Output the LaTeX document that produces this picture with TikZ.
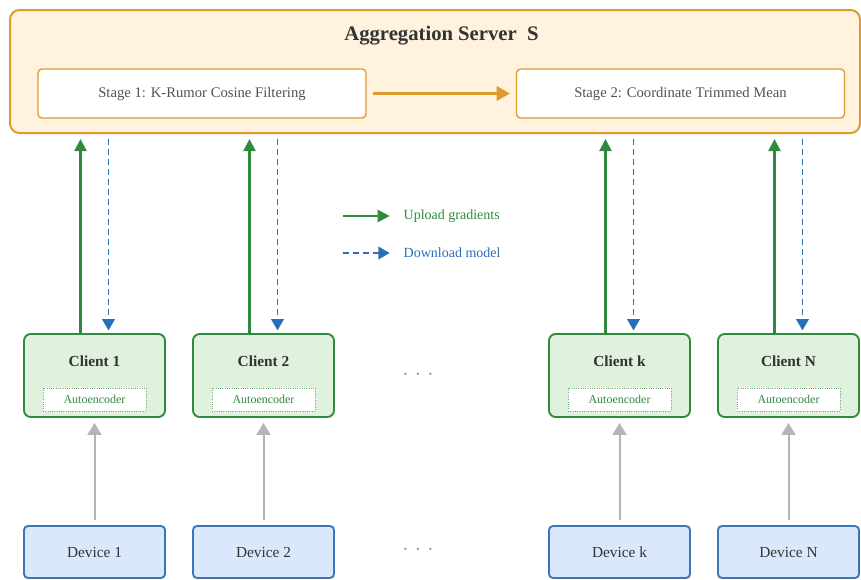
\documentclass[tikz,border=0pt]{standalone}
\usepackage{fontspec}
\setmainfont{Liberation Serif}
\usetikzlibrary{arrows.meta}
\definecolor{srvorange}{HTML}{DE9A2E}
\definecolor{srvfill}{HTML}{FFF3E0}
\definecolor{cligreen}{HTML}{2F8A3E}
\definecolor{clifill}{HTML}{E0F1DE}
\definecolor{devblue}{HTML}{3A74BA}
\definecolor{devfill}{HTML}{DAE8FC}
\definecolor{dlblue}{HTML}{2C6DB8}
\definecolor{txtgray}{HTML}{333333}
\definecolor{feedgray}{HTML}{B5B5B5}

\begin{document}
\begin{tikzpicture}[x=0.75pt, y=-0.75pt,
  server/.style={draw=srvorange, fill=srvfill, rounded corners=7pt,
                 minimum width=637.5pt, minimum height=92.25pt, line width=1.5pt},
  stagebox/.style={draw=srvorange, fill=white, rounded corners=3pt,
                   minimum width=246pt, minimum height=36.75pt, line width=1pt,
                   font=\fontsize{11}{13}\selectfont, text=txtgray!85},
  client/.style={draw=cligreen, fill=clifill, rounded corners=5pt,
                 minimum width=105.75pt, minimum height=62.25pt, line width=1.4pt},
  clitext/.style={font=\fontsize{11.5}{13}\selectfont\bfseries, text=txtgray},
  aebox/.style={draw=cligreen!70, fill=white, densely dotted, line width=0.7pt,
                minimum width=77.25pt, minimum height=17.25pt,
                font=\fontsize{9}{11}\selectfont, text=cligreen},
  device/.style={draw=devblue, fill=devfill, rounded corners=3pt,
                 minimum width=105.75pt, minimum height=39pt, line width=1.4pt,
                 font=\fontsize{11.5}{13}\selectfont, text=txtgray},
  upload/.style={draw=cligreen, line width=1.6pt, -{Triangle[length=9pt,width=9pt]}},
  download/.style={draw=dlblue, line width=1.3pt, dash pattern=on 4.5pt off 3pt,
                   -{Triangle[length=8.5pt,width=9.5pt]}},
  feed/.style={draw=feedgray, line width=1.5pt, -{Triangle[length=9pt,width=10.5pt]},
               shorten <=3.75pt, shorten >=3.75pt},
  flow/.style={draw=srvorange, line width=1.6pt, -{Triangle[length=10pt,width=11pt]},
               shorten <=4.5pt, shorten >=4.5pt},
  dots/.style={font=\fontsize{14}{16}\selectfont, text=gray!90},
  legend/.style={anchor=west, font=\fontsize{10.5}{12}\selectfont},
]
\useasboundingbox (0,0) rectangle (861,579);

% --- Server ---
\node[server] (srv) at (435,71.5) {};
\node[font=\fontsize{15.5}{18}\selectfont\bfseries, text=txtgray] (srvt) at (441.5,35.5)
  {Aggregation Server\ \ S};
\node[stagebox] (st1) at (202,93.5) {\raisebox{-1.5pt}{Stage 1: K-Rumor Cosine Filtering}};
\node[stagebox] (st2) at (680.5,93.5) {\raisebox{-1.5pt}{Stage 2: Coordinate Trimmed Mean}};
\draw[flow] (st1) -- (st2);

% --- Clients ---
\node[client] (c1) at (94.5,375.5) {};
\node[clitext] (c1t) at (94.5,361) {Client 1};
\node[aebox] (ae1) at (94.5,399.5) {Autoencoder};
\node[client] (c2) at (263.5,375.5) {};
\node[clitext] (c2t) at (263.5,361) {Client 2};
\node[aebox] (ae2) at (263.5,399.5) {Autoencoder};
\node[client] (ck) at (619.5,375.5) {};
\node[clitext] (ckt) at (619.5,361) {Client k};
\node[aebox] (aek) at (619.5,399.5) {Autoencoder};
\node[client] (cN) at (788.5,375.5) {};
\node[clitext] (cNt) at (788.5,361) {Client N};
\node[aebox] (aeN) at (788.5,399.5) {Autoencoder};
\node[dots] (cdots) at (418,377) {·\,\,·\,\,·};

% --- Devices ---
\node[device] (d1) at (94.5,552) {Device 1};
\node[device] (d2) at (263.5,552) {Device 2};
\node[device] (dk) at (619.5,552) {Device k};
\node[device] (dN) at (788.5,552) {Device N};
\node[dots] (ddots) at (418,552) {·\,\,·\,\,·};

% --- Upload / download ---
\draw[upload, shorten >=3.75pt] ([xshift=-10.5pt]c1.north) -- ([xshift=-10.5pt]c1.north |- srv.south);
\draw[upload, shorten >=3.75pt] ([xshift=-10.5pt]c2.north) -- ([xshift=-10.5pt]c2.north |- srv.south);
\draw[upload, shorten >=3.75pt] ([xshift=-10.5pt]ck.north) -- ([xshift=-10.5pt]ck.north |- srv.south);
\draw[upload, shorten >=3.75pt] ([xshift=-10.5pt]cN.north) -- ([xshift=-10.5pt]cN.north |- srv.south);
\draw[download, shorten <=3.75pt, shorten >=2pt] ([xshift=10.5pt]c1.north |- srv.south) -- ([xshift=10.5pt]c1.north);
\draw[download, shorten <=3.75pt, shorten >=2pt] ([xshift=10.5pt]c2.north |- srv.south) -- ([xshift=10.5pt]c2.north);
\draw[download, shorten <=3.75pt, shorten >=2pt] ([xshift=10.5pt]ck.north |- srv.south) -- ([xshift=10.5pt]ck.north);
\draw[download, shorten <=3.75pt, shorten >=2pt] ([xshift=10.5pt]cN.north |- srv.south) -- ([xshift=10.5pt]cN.north);

% --- Device feeds ---
\draw[feed] (d1) -- (c1);
\draw[feed] (d2) -- (c2);
\draw[feed] (dk) -- (ck);
\draw[feed] (dN) -- (cN);

% --- Legend ---
\coordinate (lgup) at (343,216);
\coordinate (lgdown) at (343,253);
\node[legend, text=cligreen] (lgupt) at (399,216) {Upload gradients};
\node[legend, text=dlblue] (lgdownt) at (399,253) {Download model};
\draw[upload, shorten >=7pt] (lgup) -- (lgupt.west);
\draw[download, line width=1.1pt, shorten >=7pt] (lgdown) -- (lgdownt.west);

\end{tikzpicture}
\end{document}
